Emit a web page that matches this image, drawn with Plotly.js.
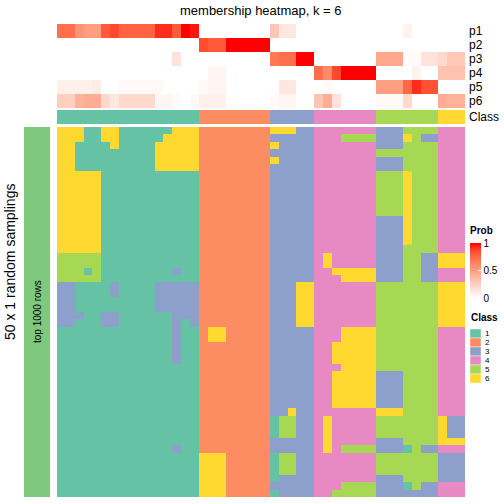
<!DOCTYPE html>
<html><head><meta charset="utf-8">
<script src="https://cdn.plot.ly/plotly-3.0.1.min.js"></script>
<style>html,body{margin:0;padding:0;background:#fff}#chart{width:504px;height:504px}</style>
</head><body><div id="chart"></div>
<script>
// ---------- data ----------
const classLabels = ['1', '2', '3', '4', '5', '6'];
const classColors = ['#66C2A5', '#FC8D62', '#8DA0CB', '#E78AC3', '#A6D854', '#FFD92F'];
const probNames = ['p1', 'p2', 'p3', 'p4', 'p5', 'p6'];
const probTicks = [0, 0.5, 1];

// class of each of the 46 samples (columns)
const sampleClass = [1,1,1,1,1,1,1,1,1,1,1,1,1,1,1,1, 2,2,2,2,2,2,2,2, 3,3,3,3,3, 4,4,4,4,4,4,4, 5,5,5,5,5,5,5, 6,6,6];

// membership probabilities per sample
const p1 = [0.72,0.72,0.55,0.5,0.5,0.8,0.87,0.77,0.77,0.77,0.77,0.92,0.92,0.8,1,0.96, 0,0,0,0,0,0,0,0, 0.3,0.13,0.13,0,0, 0,0,0,0,0,0,0, 0,0,0,0.06,0,0,0, 0,0,0];
const p2 = [0,0,0,0,0,0,0,0,0,0,0,0,0,0,0,0, 0.85,0.8,0.8,1,1,1,1,1, 0,0,0,0,0, 0,0,0,0,0,0,0, 0,0,0,0,0,0,0, 0,0,0];
const p3 = [0,0,0,0,0,0,0,0,0,0,0,0,0,0.15,0,0, 0,0,0,0,0,0,0,0, 0.68,0.72,0.72,1,1, 0,0,0,0,0,0,0, 0.45,0.45,0.45,0.02,0.02,0.15,0.15, 0.2,0.28,0.28];
const p4 = [0,0,0,0,0,0,0,0,0,0,0,0,0,0,0,0, 0,0.05,0.05,0,0,0,0,0, 0,0,0,0,0, 0.72,0.6,0.87,1,1,1,1, 0,0,0,0,0.06,0,0, 0.32,0.32,0.32];
const p5 = [0.08,0.08,0.08,0.08,0.1,0,0,0.03,0.03,0.03,0.03,0.03,0,0,0,0, 0.03,0.05,0.05,0,0,0,0,0, 0,0.13,0.13,0,0, 0,0.02,0,0,0,0,0, 0.5,0.5,0.5,0.75,0.92,0.83,0.83, 0,0,0];
const p6 = [0.25,0.25,0.4,0.43,0.43,0.2,0.12,0.2,0.2,0.2,0.2,0.05,0.05,0.02,0,0.03, 0.08,0.08,0.08,0,0,0,0,0, 0.03,0.05,0.05,0,0, 0.3,0.42,0.15,0,0,0,0, 0.03,0.03,0.03,0.2,0,0,0, 0.43,0.4,0.4];

// 50 random samplings (rows) x 46 samples: predicted class
const samplingRows = [
 '6661166111111666 22222222 66633 4444444 3335555 444',
 '6661166111116666 22222222 33333 4445555 3336533 444',
 '6611116111166666 22222222 63333 4444444 3335555 444',
 '6611111111166666 22222222 33333 4444444 5555555 444',
 '6611111111166666 22222222 63333 4444444 3335555 444',
 '6611111111166666 22222222 33333 4444444 3335555 444',
 '6666611111111111 22222222 33333 4444444 5556555 444',
 '6666611111111111 22222222 33333 4444444 5556555 444',
 '6666611111111111 22222222 33333 4444444 5556555 444',
 '6666611111111111 22222222 33333 4444444 5556555 444',
 '6666611111111111 22222222 33333 4444444 5556555 444',
 '6666611111111111 22222222 33333 4444444 5556555 444',
 '6666611111111111 22222222 33333 4444444 3336555 444',
 '6666611111111111 22222222 33333 4444444 3336555 444',
 '6666611111111111 22222222 33333 4444444 3336555 444',
 '6666611111111111 22222222 33333 4444444 3336555 444',
 '6666611111111111 22222222 33333 4444444 3335555 444',
 '5555511111111111 22222222 33333 4644444 3335533 666',
 '5555511111111111 22222222 33333 4644444 3335533 666',
 '5551511111111311 22222222 33333 4466666 3335533 444',
 '5555511111111111 22222222 33333 4446666 3335533 444',
 '3311113111133333 22222222 33366 4444444 5555555 666',
 '3311113111133333 22222222 33366 4444444 5555555 666',
 '3311111111133333 22222222 33366 4444444 5555555 666',
 '3311111111133333 22222222 33366 4444444 5555555 666',
 '3331133111111333 22222222 33366 4444444 5555555 666',
 '3311133111111313 22222222 33366 4444444 5555555 666',
 '1111111111111311 26622222 33333 4446666 5555555 444',
 '1111111111111311 26622222 33333 4446666 5555555 444',
 '1111111111111311 22222222 33333 4466666 5555555 444',
 '1111111111111311 22222222 33333 4466666 5555555 444',
 '1111111111111311 22222222 33333 4466666 5555555 444',
 '1111111111111111 22222222 33333 4446666 5555555 444',
 '1111111111111111 22222222 33333 4466666 3335555 444',
 '1111111111111111 22222222 33333 4466666 3335555 444',
 '1111111111111111 22222222 33333 4466666 3335555 444',
 '1111111111111111 22222222 33333 4466666 3335555 444',
 '1111111111111111 22222222 33333 4466666 3335555 444',
 '1111111111111111 22222222 33633 4444444 6665555 444',
 '1111111111111111 22222222 15533 4644444 5555555 633',
 '1111111111111111 22222222 15533 4644444 5555555 633',
 '1111111111111111 22222222 15533 4644444 5555555 633',
 '1111111111111111 22222222 33333 4644444 3335555 666',
 '1111111111111311 22222222 33333 4645555 3331533 444',
 '1111111111111111 66622222 15533 4444444 5555555 333',
 '1111111111111111 66622222 15533 4444444 5555555 333',
 '1111111111111111 66622222 15533 4444444 5555555 333',
 '1111111111111111 66622222 13333 4444444 3335555 333',
 '1111111111111111 66622222 33333 4445555 3331533 444',
 '1111111111111111 66622222 13333 4455555 3333333 444'
];

// ---------- build ----------
const W = 504, H = 504;
const px = x => x / W;
const py = y => 1 - y / H;
const FONT = 'Liberation Sans, Arial, Helvetica, sans-serif';

const mainZ = samplingRows.map(r => r.replace(/\s+/g, '').split('').map(Number));
const probZ = [p1, p2, p3, p4, p5, p6];
const nCol = sampleClass.length;
const xs = sampleClass.map((_, i) => i);

const k = classColors.length;
const discreteScale = [];
classColors.forEach((c, i) => { discreteScale.push([i / k, c]); discreteScale.push([(i + 1) / k, c]); });

const probScale = [[0,'#FFFFFF'],[0.125,'#FFE7DF'],[0.25,'#FFCFBF'],[0.375,'#FFB7A0'],[0.5,'#FF9E81'],
                   [0.625,'#FF8464'],[0.75,'#FF6846'],[0.875,'#FF4628'],[1,'#FF0000']];

const traces = [
  { type: 'heatmap', x: xs, y: mainZ.map((_, i) => i), z: mainZ, xaxis: 'x', yaxis: 'y',
    colorscale: discreteScale, zmin: 0.5, zmax: k + 0.5, showscale: false, hoverinfo: 'z' },
  { type: 'heatmap', x: xs, y: probNames, z: probZ, xaxis: 'x', yaxis: 'y2',
    colorscale: probScale, zmin: 0, zmax: 1, showscale: true, hoverinfo: 'z',
    colorbar: { x: px(470), xanchor: 'left', y: py(243), yanchor: 'top',
      len: 55, lenmode: 'pixels', thickness: 11, thicknessmode: 'pixels',
      outlinewidth: 0, xpad: 0, ypad: 0, tickvals: probTicks, ticktext: ['0','0.5','1'],
      ticks: 'inside', ticklen: 3, tickcolor: '#ffffff', tickwidth: 1,
      tickfont: { family: FONT, size: 10, color: '#000' } } },
  { type: 'heatmap', x: xs, y: ['Class'], z: [sampleClass], xaxis: 'x', yaxis: 'y3',
    colorscale: discreteScale, zmin: 0.5, zmax: k + 0.5, showscale: false, hoverinfo: 'z' }
];

const hidden = { visible: false, showgrid: false, zeroline: false, fixedrange: true };
const layout = {
  width: W, height: H, margin: { l: 0, r: 0, t: 0, b: 0 },
  paper_bgcolor: '#fff', plot_bgcolor: '#fff', showlegend: false,
  font: { family: FONT, color: '#000' },
  xaxis: Object.assign({ domain: [px(57), px(465)], range: [-0.5, nCol - 0.5] }, hidden),
  yaxis: Object.assign({ domain: [py(497), py(127)], range: [mainZ.length - 0.5, -0.5], anchor: 'x' }, hidden),
  yaxis2: Object.assign({ domain: [py(108), py(24)], autorange: 'reversed', type: 'category', anchor: 'x' }, hidden),
  yaxis3: Object.assign({ domain: [py(124), py(110)], type: 'category', anchor: 'x' }, hidden),
  shapes: [
    { type: 'rect', xref: 'paper', yref: 'paper', x0: px(24), x1: px(50), y0: py(497), y1: py(127),
      fillcolor: '#7FC97F', line: { width: 0 } }
  ],
  annotations: [
    { text: 'membership heatmap, k = 6', x: px(261), y: py(10), xref: 'paper', yref: 'paper',
      xanchor: 'center', yanchor: 'middle', showarrow: false, font: { size: 13 } },
    { text: '50 x 1 random samplings', x: px(10), y: py(262), xref: 'paper', yref: 'paper',
      xanchor: 'center', yanchor: 'middle', textangle: -90, showarrow: false, font: { size: 14 } },
    { text: 'top 1000 rows', x: px(37), y: py(312), xref: 'paper', yref: 'paper',
      xanchor: 'center', yanchor: 'middle', textangle: -90, showarrow: false, font: { size: 10 } },
    { text: '<b>Prob</b>', x: px(469), y: py(231), xref: 'paper', yref: 'paper',
      xanchor: 'left', yanchor: 'middle', showarrow: false, height: 11, borderpad: 0, font: { size: 10 } },
    { text: '<b>Class</b>', x: px(469), y: py(317), xref: 'paper', yref: 'paper',
      xanchor: 'left', yanchor: 'middle', showarrow: false, font: { size: 10 } }
  ]
};

probNames.concat(['Class']).forEach((n, i) => {
  const yc = i < 6 ? 31 + 14 * i : 117;
  layout.annotations.push({ text: n, x: px(467), y: py(yc), xref: 'paper', yref: 'paper',
    xanchor: 'left', yanchor: 'middle', showarrow: false, font: { size: 12 } });
});

classLabels.forEach((lab, i) => {
  const y0 = 329 + 9 * i;
  layout.shapes.push({ type: 'rect', xref: 'paper', yref: 'paper', x0: px(470), x1: px(481),
    y0: py(y0 + 9), y1: py(y0), fillcolor: classColors[i], line: { width: 0.6, color: 'rgba(255,255,255,0.7)' } });
  layout.annotations.push({ text: lab, x: px(484), y: py(y0 + 4.5), xref: 'paper', yref: 'paper',
    xanchor: 'left', yanchor: 'middle', showarrow: false, height: 9, borderpad: 0,
    font: { size: 8 } });
});

Plotly.newPlot('chart', traces, layout, { displayModeBar: false, staticPlot: true });
</script>
</body></html>
